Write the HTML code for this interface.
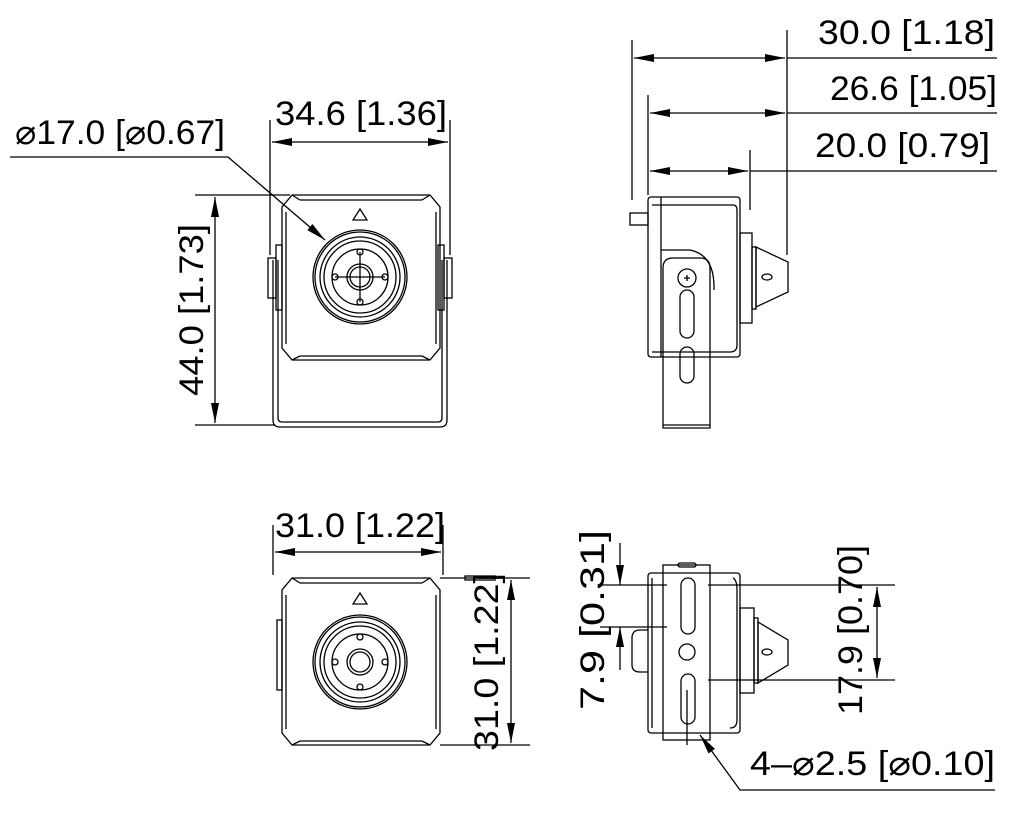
<!DOCTYPE html>
<html><head><meta charset="utf-8"><style>
html,body{margin:0;padding:0;background:#fff}
svg{display:block}
text{font-family:"Liberation Sans",sans-serif;font-size:34px;fill:#000}
</style></head><body>
<svg width="1009" height="818" viewBox="0 0 1009 818" xmlns="http://www.w3.org/2000/svg">
<defs>
<marker id="a" viewBox="0 0 20 8" refX="20" refY="4" markerWidth="20" markerHeight="8" markerUnits="userSpaceOnUse" orient="auto-start-reverse"><path d="M0,0L20,4L0,8z" fill="#000"/></marker>
</defs>
<g fill="none" stroke="#000" stroke-width="1.3">
<!-- FRONT VIEW TOP -->
<line x1="270" y1="120" x2="270" y2="255"/><line x1="450" y1="120" x2="450" y2="255"/>
<line x1="272" y1="142" x2="448" y2="142" marker-start="url(#a)" marker-end="url(#a)"/>
<line x1="195" y1="195" x2="290" y2="195"/><line x1="195" y1="425" x2="275" y2="425"/>
<line x1="215" y1="197" x2="215" y2="423" marker-start="url(#a)" marker-end="url(#a)"/>
<polyline points="10,157 228,157 325,240" marker-end="url(#a)"/>
<path d="M273,260 V420 Q273,427 280,427 H440 Q447,427 447,420 V260"/>
<path d="M278,260 V418 Q278,422 282,422 H438 Q442,422 442,418 V260"/>
<rect x="268" y="258" width="8" height="40"/><rect x="444" y="258" width="8" height="40"/>
<rect x="276" y="245" width="6" height="65"/><rect x="438" y="245" width="6" height="65"/>
<path d="M292,195 H430 L440,207 V348 L430,360 H292 L282,348 V207Z"/>
<path d="M300,200 H422 M300,356 H422 M286,212 V344 M436,212 V344"/>
<path d="M292,195 L300,200 M430,195 L422,200 M292,360 L300,356 M430,360 L422,356"/>
<path d="M353,220 L360,209 L367,220Z"/>
<circle cx="360" cy="277" r="47"/><circle cx="360" cy="277" r="45"/><circle cx="360" cy="277" r="40"/><circle cx="360" cy="277" r="36"/><circle cx="360" cy="277" r="28"/>
<circle cx="360" cy="277" r="13"/><circle cx="360" cy="277" r="10"/>
<line x1="335" y1="277" x2="385" y2="277"/><line x1="360" y1="252" x2="360" y2="302"/>
<circle cx="360" cy="252" r="3"/><circle cx="360" cy="302" r="3"/><circle cx="335" cy="277" r="3"/><circle cx="385" cy="277" r="3"/>
<!-- SIDE VIEW TOP -->
<line x1="632" y1="40" x2="632" y2="200"/><line x1="648" y1="95" x2="648" y2="195"/>
<line x1="750" y1="150" x2="750" y2="210"/><line x1="787" y1="30" x2="787" y2="255"/>
<line x1="634" y1="58" x2="785" y2="58" marker-start="url(#a)" marker-end="url(#a)"/><line x1="787" y1="58" x2="997" y2="58"/>
<line x1="650" y1="113" x2="785" y2="113" marker-start="url(#a)" marker-end="url(#a)"/><line x1="787" y1="113" x2="997" y2="113"/>
<line x1="650" y1="171" x2="748" y2="171" marker-start="url(#a)" marker-end="url(#a)"/><line x1="750" y1="171" x2="997" y2="171"/>
<rect x="630" y="213" width="18" height="12"/>
<rect x="648" y="197" width="92" height="160" rx="3"/>
<path d="M661,197 V357 M652,205 H733 Q737,205 737,210 V345 Q737,352 730,352 H652"/>
<path d="M661,250 H690 Q715,255 714,290"/>
<path d="M663,428 V268 Q663,258 673,258 H700 Q710,258 710,268 V428Z"/>
<line x1="663" y1="425" x2="710" y2="425"/>
<circle cx="687" cy="278" r="9"/><path d="M684,278h6M687,275v6"/>
<rect x="680" y="290" width="14" height="48" rx="7"/><rect x="680" y="347" width="14" height="36" rx="7"/>
<rect x="740" y="233" width="12" height="90"/><rect x="752" y="247" width="4" height="62"/>
<path d="M756,247 L788,262 V292 L756,307Z"/><ellipse cx="767" cy="277" rx="5" ry="3"/>
<!-- FRONT VIEW BOTTOM -->
<line x1="273" y1="525" x2="273" y2="575"/><line x1="443" y1="525" x2="443" y2="575"/>
<line x1="275" y1="552" x2="441" y2="552" marker-start="url(#a)" marker-end="url(#a)"/>
<line x1="440" y1="578" x2="530" y2="578"/><line x1="440" y1="745" x2="530" y2="745"/>
<rect x="465" y="576" width="30" height="4"/>
<line x1="511" y1="580" x2="511" y2="743" marker-start="url(#a)" marker-end="url(#a)"/>
<path d="M292,578 H430 L440,590 V733 L430,745 H292 L282,733 V590Z"/>
<path d="M300,583 H422 M300,741 H422 M286,595 V729 M436,595 V729"/>
<path d="M292,578 L300,583 M430,578 L422,583 M292,745 L300,741 M430,745 L422,741"/>
<rect x="277" y="620" width="5" height="70"/>
<path d="M353,604 L360,593 L367,604Z"/>
<circle cx="360" cy="662" r="47"/><circle cx="360" cy="662" r="45"/><circle cx="360" cy="662" r="40"/><circle cx="360" cy="662" r="36"/><circle cx="360" cy="662" r="28"/>
<circle cx="360" cy="662" r="13"/><circle cx="360" cy="662" r="10"/>
<circle cx="360" cy="637" r="3"/><circle cx="360" cy="687" r="3"/><circle cx="335" cy="662" r="3"/><circle cx="385" cy="662" r="3"/>
<!-- SIDE VIEW BOTTOM -->
<rect x="648" y="573" width="92" height="160" rx="3"/>
<path d="M652,578 V728 M733,578 Q737,580 737,590 V720 Q737,728 730,728"/>
<rect x="663" y="565" width="47" height="175"/>
<rect x="678" y="563" width="18" height="4" rx="2"/>
<rect x="681" y="578" width="14" height="56" rx="7"/><rect x="681" y="674" width="14" height="50" rx="7"/>
<circle cx="687" cy="652" r="8"/>
<path d="M648,630 H640 Q632,630 632,638 V665 Q632,672 640,672 H648"/>
<rect x="740" y="608" width="14" height="85"/><rect x="754" y="618" width="4" height="65"/>
<path d="M758,622 L788,640 V665 L758,683Z"/><ellipse cx="767" cy="652" rx="5" ry="3"/>
<line x1="600" y1="585" x2="667" y2="585"/><line x1="708" y1="585" x2="895" y2="585"/>
<line x1="600" y1="627" x2="667" y2="627"/><line x1="708" y1="680" x2="895" y2="680"/>
<line x1="620" y1="543" x2="620" y2="585" marker-end="url(#a)"/>
<line x1="620" y1="670" x2="620" y2="627" marker-end="url(#a)"/>
<line x1="877" y1="587" x2="877" y2="678" marker-start="url(#a)" marker-end="url(#a)"/>
<line x1="687" y1="690" x2="687" y2="745"/>
<polyline points="995,790 740,790 700,735" marker-end="url(#a)"/>
</g>
<g style="font-size:36px">
<text x="275" y="125" textLength="172" lengthAdjust="spacingAndGlyphs">34.6 [1.36]</text>
<text x="15" y="144" textLength="210" lengthAdjust="spacingAndGlyphs">⌀17.0 [⌀0.67]</text>
<text transform="translate(203,310) rotate(-90)" text-anchor="middle" textLength="172" lengthAdjust="spacingAndGlyphs">44.0 [1.73]</text>
<text x="818" y="44" textLength="177" lengthAdjust="spacingAndGlyphs">30.0 [1.18]</text>
<text x="830" y="100" textLength="167" lengthAdjust="spacingAndGlyphs">26.6 [1.05]</text>
<text x="815" y="157" textLength="175" lengthAdjust="spacingAndGlyphs">20.0 [0.79]</text>
<text x="275" y="537" textLength="170" lengthAdjust="spacingAndGlyphs">31.0 [1.22]</text>
<text transform="translate(498,662) rotate(-90)" text-anchor="middle" textLength="178" lengthAdjust="spacingAndGlyphs">31.0 [1.22]</text>
<text transform="translate(604,620) rotate(-90)" text-anchor="middle" textLength="180" lengthAdjust="spacingAndGlyphs">7.9 [0.31]</text>
<text transform="translate(862,630) rotate(-90)" text-anchor="middle" textLength="170" lengthAdjust="spacingAndGlyphs">17.9 [0.70]</text>
<text x="750" y="775" textLength="245" lengthAdjust="spacingAndGlyphs">4–⌀2.5 [⌀0.10]</text>
</g>
</svg>
</body></html>
